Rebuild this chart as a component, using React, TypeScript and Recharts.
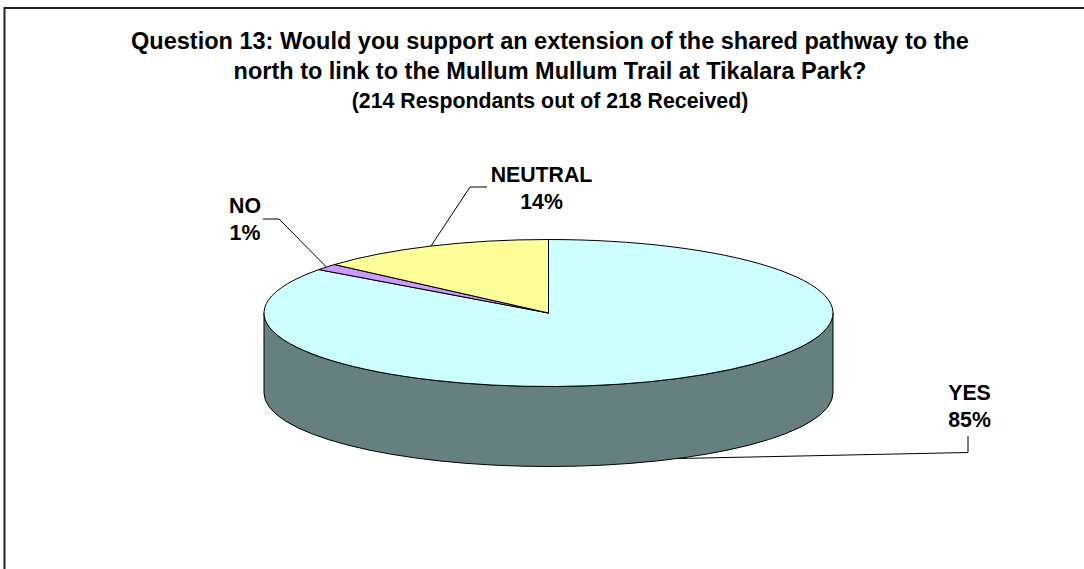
import { PieChart, Pie, Cell } from 'recharts'

const CATEGORIES = ['YES', 'NO', 'NEUTRAL']
// respondent counts, they add up to the 214 in the subtitle and round to 85/1/14 %
const COUNTS = [182, 3, 29]
const SLICE_COLORS = ['#ccffff', '#cc99ff', '#ffff99']

const TITLE_LINES = [
  'Question 13: Would you support an extension of the shared pathway to the',
  'north to link to the Mullum Mullum Trail at Tikalara Park?',
]
const SUBTITLE = '(214 Respondants out of 218 Received)'

const WIDTH = 1084
const HEIGHT = 569
const CX = 548.5
const CY = 313
const RX = 284.5
const RY = 73.5
const DEPTH = 80
const WALL = '#668080'
const FONT = '"Liberation Sans", Arial, sans-serif'

const data = CATEGORIES.map((name, i) => ({ name, value: COUNTS[i] }))

// recharts pies are round, so squash the point onto the tilted ellipse
const pt = (deg: number) => {
  const r = (deg * Math.PI) / 180
  return [CX + RX * Math.cos(r), CY - RY * Math.sin(r)]
}

function Slice3D({ startAngle, endAngle, fill }: any) {
  const [x0, y0] = pt(startAngle)
  const [x1, y1] = pt(endAngle)
  const large = Math.abs(startAngle - endAngle) > 180 ? 1 : 0
  const top = `M${CX},${CY} L${x0},${y0} A${RX},${RY} 0 ${large} 1 ${x1},${y1} Z`

  // only the part of the slice below the horizontal axis shows a side wall
  const from = Math.max(startAngle, -180) > 0 ? 0 : Math.max(startAngle, -180)
  const to = Math.max(endAngle, -180)
  let wall = null
  if (from > to) {
    const [wx0, wy0] = pt(from)
    const [wx1, wy1] = pt(to)
    wall = (
      <path
        d={`M${wx0},${wy0} A${RX},${RY} 0 0 1 ${wx1},${wy1} L${wx1},${wy1 + DEPTH} A${RX},${RY} 0 0 0 ${wx0},${wy0 + DEPTH} Z`}
        fill={WALL}
        stroke="#000"
        strokeWidth={1}
      />
    )
  }
  return (
    <g>
      {wall}
      <path d={top} fill={fill} stroke="#000" strokeWidth={1} />
    </g>
  )
}

// where each label sits and the elbow of its leader
const LABEL_LAYOUT: Record<string, { x: number; y: number; elbow: number[][]; drop: number }> = {
  YES: { x: 969.5, y: 400, elbow: [[968, 452.5], [968, 436]], drop: DEPTH },
  NO: { x: 245, y: 213, elbow: [[279, 219], [263, 219]], drop: 0 },
  NEUTRAL: { x: 541.5, y: 182, elbow: [[470, 187], [487, 187]], drop: 0 },
}

function SliceLabel({ midAngle, name, percent }: any) {
  const layout = LABEL_LAYOUT[name]
  const [sx, sy] = pt(midAngle)
  const points = [[sx, sy + layout.drop], ...layout.elbow].map((p) => p.join(',')).join(' ')
  const textProps = {
    x: layout.x,
    textAnchor: 'middle' as const,
    fontFamily: FONT,
    fontWeight: 700,
    fontSize: 21.3,
    fill: '#000',
  }
  return (
    <g>
      <polyline points={points} fill="none" stroke="#000" strokeWidth={1} />
      <text {...textProps} y={layout.y}>{name}</text>
      <text {...textProps} y={layout.y + 27}>{`${Math.round(percent * 100)}%`}</text>
    </g>
  )
}

export default function App() {
  return (
    <div style={{ position: 'absolute', left: 0, top: 0, width: WIDTH, height: HEIGHT, background: '#fff' }}>
      <PieChart width={WIDTH} height={HEIGHT} margin={{ top: 0, right: 0, bottom: 0, left: 0 }}>
        <path d={`M4.5,${HEIGHT} L4.5,8 L${WIDTH},8`} fill="none" stroke="#222" strokeWidth={2} />
        <text textAnchor="middle" fontFamily={FONT} fontWeight={700} fill="#000">
          <tspan x={550} y={49} fontSize={23.5}>{TITLE_LINES[0]}</tspan>
          <tspan x={550} y={79} fontSize={23.5}>{TITLE_LINES[1]}</tspan>
          <tspan x={550} y={108} fontSize={21.3}>{SUBTITLE}</tspan>
        </text>
        <Pie
          data={data}
          dataKey="value"
          nameKey="name"
          cx={CX}
          cy={CY}
          outerRadius={RX}
          startAngle={90}
          endAngle={-270}
          paddingAngle={0}
          stroke="#000"
          shape={Slice3D}
          label={SliceLabel}
          labelLine={false}
          isAnimationActive={false}
        >
          {data.map((d, i) => (
            <Cell key={d.name} fill={SLICE_COLORS[i]} />
          ))}
        </Pie>
      </PieChart>
    </div>
  )
}
